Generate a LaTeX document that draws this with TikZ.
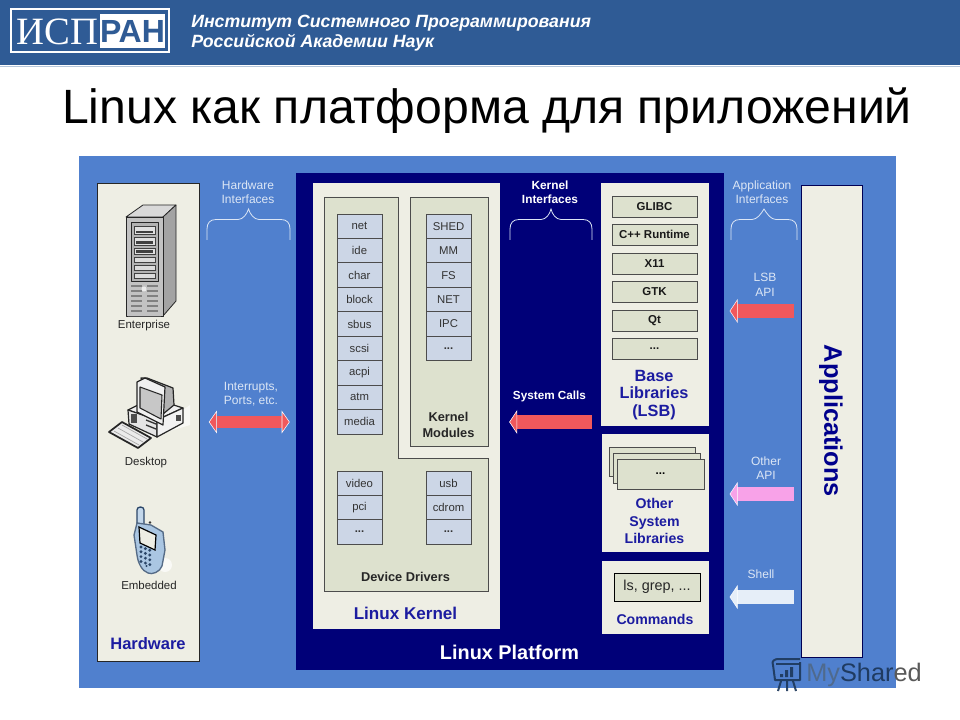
\documentclass[tikz,border=0pt]{standalone}
\usepackage{fontspec}
\setmainfont{Liberation Sans}
\newfontfamily\serifrm{Liberation Serif}
\usetikzlibrary{arrows.meta}
\definecolor{headblue}{HTML}{2F5B95}
\definecolor{bgblue}{HTML}{5080CE}
\definecolor{navy2}{HTML}{000078}
\definecolor{cream}{HTML}{EEEEE4}
\definecolor{sage}{HTML}{DDE1CE}
\definecolor{cellblue}{HTML}{CCD6E6}
\definecolor{titleblue}{HTML}{1C1CA0}
\definecolor{pale}{HTML}{DCE6F5}
\definecolor{redarr}{HTML}{F0585C}
\definecolor{pinkarr}{HTML}{F8A2E8}
\definecolor{palearr}{HTML}{E6EEF8}
\definecolor{phoneb}{HTML}{AAC6E2}
\definecolor{phoned}{HTML}{2B4668}
\newcommand{\celldots}{\bfseries ...}
\newcommand{\pbox}[7]{%
  \pgfmathsetmacro\pbW{(#5-#3)*0.75}%
  \pgfmathsetmacro\pbH{(#6-#4)*0.75}%
  \node[#1,minimum width=\pbW pt,minimum height=\pbH pt,inner sep=0pt] (#2) at ({(#3+#5)/2},{(#4+#6)/2}) {#7};}
\tikzset{
  headband/.style={fill=headblue},
  mainbg/.style={fill=bgblue},
  platbg/.style={fill=navy2},
  panel/.style={fill=cream},
  hwpanel/.style={fill=cream,draw=black!85,line width=.7pt},
  apppanel/.style={fill=cream,draw=navy2!70!black,line width=.7pt},
  subpanel/.style={fill=sage,draw=black!70,line width=.7pt},
  cellbox/.style={fill=cellblue,draw=black!70,line width=.7pt,text=black!80,font=\fontsize{8.5}{10}\selectfont},
  libbox/.style={fill=sage,draw=black!70,line width=.7pt,text=black!90,font=\bfseries\fontsize{8.6}{10}\selectfont},
  stackbox/.style={fill=sage,draw=black!70,line width=.7pt,font=\bfseries\fontsize{8.6}{10}\selectfont},
  cmdbox/.style={fill=sage,draw=black,line width=.7pt,text=black!85,font=\fontsize{10.8}{12}\selectfont},
  paneltitle/.style={text=titleblue,align=center,font=\bfseries\fontsize{12.2}{13}\selectfont},
  smalltitle/.style={text=titleblue,align=center,font=\bfseries\fontsize{10.6}{13}\selectfont},
  blacktitle/.style={text=black!85,align=center,font=\bfseries\fontsize{9.6}{12}\selectfont},
  arrlabel/.style={text=pale,align=center,font=\fontsize{9}{10.8}\selectfont},
  whitelabel/.style={text=white,align=center,font=\bfseries\fontsize{8.8}{10.8}\selectfont},
  bracket/.style={draw=pale,line width=.6pt},
  blockarr/.style={draw=#1,line width=9.8pt,-{Triangle[length=6pt,width=18pt,color=white,fill=#1,line width=.4pt]}},
  blockdbl/.style={draw=#1,line width=9pt,{Triangle[length=6pt,width=17pt,color=white,fill=#1,line width=.4pt]}-{Triangle[length=6pt,width=17pt,color=white,fill=#1,line width=.4pt]}},
  icon/.style={draw=black!85,line width=.6pt,line join=round}
}
\begin{document}
\begin{tikzpicture}[x=0.75pt,y=-0.75pt]
\useasboundingbox (0,0) rectangle (960,720);
\fill[white] (0,0) rectangle (960,720);
% header
\pbox{headband}{header}{0}{0}{960}{65}{}
\draw[draw=headblue!35,line width=.6pt] (0,66) -- (960,66);
\pbox{draw=white,line width=1.8pt,fill=headblue}{logo}{11}{9}{169}{52}{}
\pbox{fill=white}{logoran}{100}{14}{165}{48}{\bfseries\fontsize{24}{26}\selectfont\textcolor{headblue}{РАН}}
\node[anchor=east,inner sep=0pt,text=white,font=\serifrm\fontsize{29}{31}\selectfont] (logoisp) at (98.5,31.5) {ИСП};
\node[anchor=west,inner sep=0pt,text=white,font=\bfseries\itshape\fontsize{13.3}{15}\selectfont] (inst1) at (191,23) {Институт Системного Программирования};
\node[anchor=west,inner sep=0pt,text=white,font=\bfseries\itshape\fontsize{13.3}{15}\selectfont] (inst2) at (191,43) {Российской Академии Наук};
\node[inner sep=0pt,text=black,font=\fontsize{36.1}{40}\selectfont] (title) at (487,111) {Linux как платформа для приложений};
% panels
\pbox{mainbg}{main}{79}{156}{896}{688}{}
\pbox{hwpanel}{hardware}{97}{183}{199}{661}{}
\pbox{platbg}{platform}{296}{173}{724}{670}{}
\pbox{panel}{kernel}{313}{183}{500}{629}{}
\pbox{apppanel}{apps}{801}{185}{862}{657}{}
\node[rotate=-90,inner sep=0pt,text=navy2!85!blue,font=\bfseries\fontsize{19}{21}\selectfont] (appstext) at (831,421) {Applications};
% hardware text
\node[inner sep=0pt,text=black!85,font=\fontsize{8.6}{10}\selectfont] (enterprise) at (144,326) {Enterprise};
\node[inner sep=0pt,text=black!85,font=\fontsize{8.6}{10}\selectfont] (desktop) at (146,463) {Desktop};
\node[inner sep=0pt,text=black!85,font=\fontsize{8.6}{10}\selectfont] (embedded) at (149,585) {Embedded};
\node[paneltitle,inner sep=0pt,font=\bfseries\fontsize{12.4}{14}\selectfont] (hwtitle) at (148,644) {Hardware};
% server icon
\draw[icon,fill=black!15] (126,217) -- (143,205) -- (176,205) -- (163,217) -- cycle;
\draw[icon,fill=black!36] (163,217) -- (176,205) -- (176,301) -- (163,316) -- cycle;
\draw[icon,fill=black!24] (126,217) rectangle (163,316);
\draw[icon,fill=black!30] (131,222) rectangle (158,281);
\foreach \ya/\yb/\fc in {226/234/black!12, 237/245/black!12, 248/254/black!12, 257/262/black!14, 265/270/black!14, 273/278/black!14}
  \draw[draw=black!75,line width=.5pt,fill=\fc] (134,\ya) rectangle (155,\yb);
\fill[black!75] (136,231) rectangle (153,233);
\fill[black!75] (136,241) rectangle (153,244);
\fill[black!75] (136,250) rectangle (153,253);
\foreach \yy in {286,291,296,301,306,311} {
  \draw[black!50,line width=.9pt] (131,\yy) -- (142,\yy);
  \draw[black!50,line width=.9pt] (147,\yy) -- (158,\yy);
}
\fill[black!8] (144,289) circle (2.5);
\draw[black!70,line width=.9pt] (128,316.5) -- (161,316.5);
% desktop icon
\fill[white,opacity=.6] (140,440) -- (190,425) -- (190,405) -- cycle;
\draw[icon,line width=.9pt,fill=black!6] (128,410) -- (152,398) -- (183,408) -- (157,420) -- cycle;
\draw[icon,line width=.9pt,fill=black!10] (128,410) -- (157,420) -- (157,437) -- (129,424) -- cycle;
\draw[icon,line width=.9pt,fill=black!5] (157,420) -- (183,408) -- (183,423) -- (157,437) -- cycle;
\fill[black!70] (131,414) rectangle (137,423);
\fill[black!70] (176,415) rectangle (181,421);
\draw[black!80,line width=1pt] (146,420) -- (156,424) (146,425) -- (156,429);
\draw[icon,line width=.9pt,fill=black!30] (141,378) -- (147,378) -- (173,388) -- (174,405) -- (163,414) -- (150,405) -- cycle;
\draw[icon,line width=.9pt,fill=black!6] (137,382) -- (145,378) -- (165,387) -- (163,425) -- (137,412) -- cycle;
\draw[icon,line width=.8pt,fill=black!22] (140,387) -- (162,395) -- (161,419) -- (140,408) -- cycle;
% keyboard
\draw[icon,line width=1.3pt,fill=black!8] (109,432) -- (122,422) -- (151,438) -- (138,448) -- cycle;
\draw[black!35,line width=.5pt] (114,431) -- (139,445) (118,428) -- (143,442) (122,425) -- (147,439);
% phone icon
\fill[white,opacity=.7] (165,565) circle (7);
\draw[draw=phoned,line width=1pt,fill=phoneb!70] (137,523) -- (137,510) .. controls (137,506) and (144,506) .. (144,510) -- (144,526) -- cycle;
\draw[draw=phoned!80,line width=1pt,fill=phoneb] (137,523) -- (151,525) -- (163,532) -- (165,550) -- (162,566) .. controls (160,572) and (152,575) .. (148,573) .. controls (142,571) and (138,563) .. (137,555) -- (134,535) -- cycle;
\draw[draw=black,line width=.9pt,fill=cream] (139,527) -- (156,535) -- (155,550) -- (140,543) -- cycle;
\fill[black!80] (150,522.5) circle (1.3);
\foreach \r in {0,1,2,3} \foreach \c in {0,1,2}
  \fill[phoned] ({141+\c*4.4},{547+\r*4.8+\c*1.6}) circle (1.6);
\fill[phoned] (146.5,566) circle (1.2);
% brackets
\draw[bracket] (207,240) -- (207,229) .. controls (207,223) and (210,219.5) .. (216,219.5) -- (238,219.5) .. controls (243,219.5) and (247,214) .. (248.5,209) .. controls (250,214) and (254,219.5) .. (259,219.5) -- (281,219.5) .. controls (287,219.5) and (290,223) .. (290,229) -- (290,240);
\draw[bracket] (510,240) -- (510,229) .. controls (510,223) and (513,219.5) .. (519,219.5) -- (541,219.5) .. controls (546,219.5) and (550,214) .. (551,209) .. controls (552,214) and (556,219.5) .. (561,219.5) -- (583,219.5) .. controls (589,219.5) and (592,223) .. (592,229) -- (592,240);
\draw[bracket] (731,240) -- (731,229) .. controls (731,223) and (734,219.5) .. (740,219.5) -- (752,219.5) .. controls (757,219.5) and (761,214) .. (764,209) .. controls (767,214) and (771,219.5) .. (776,219.5) -- (788,219.5) .. controls (794,219.5) and (797,223) .. (797,229) -- (797,240);
\node[arrlabel,inner sep=0pt] (hwif) at (248,192.5) {Hardware\\Interfaces};
\node[whitelabel,inner sep=0pt,font=\bfseries\fontsize{8.9}{10.8}\selectfont] (kif) at (550,192) {Kernel\\Interfaces};
\node[arrlabel,inner sep=0pt] (appif) at (762,192) {Application\\Interfaces};
\node[arrlabel,inner sep=0pt] (irq) at (251,394) {Interrupts,\\Ports, etc.};
\node[arrlabel,inner sep=0pt] (lsbapi) at (765,285) {LSB\\API};
\node[arrlabel,inner sep=0pt] (othapi) at (766,468) {Other\\API};
\node[arrlabel,inner sep=0pt] (shell) at (761,574) {Shell};
\node[whitelabel,inner sep=0pt] (syscalls) at (549.5,396) {System Calls};
% kernel subpanels
\fill[sage] (324,197) -- (398,197) -- (398,458) -- (488,458) -- (488,591) -- (324,591) -- cycle;
\draw[draw=black!70,line width=.7pt] (324,197) -- (398,197) -- (398,458) -- (488,458) -- (488,591) -- (324,591) -- cycle;
\pbox{subpanel}{modules}{410}{197}{488}{446}{}
\foreach \nm [count=\i from 0] in {net,ide,char,block,sbus,scsi,acpi,atm,media} {
  \pgfmathsetmacro\ya{214+\i*24.45}\pgfmathsetmacro\yb{\ya+24.45}
  \pbox{cellbox}{drv\i}{337}{\ya}{382}{\yb}{\nm}
}
\foreach \nm [count=\i from 0] in {SHED,MM,FS,NET,IPC,\celldots} {
  \pgfmathsetmacro\ya{214+\i*24.45}\pgfmathsetmacro\yb{\ya+24.45}
  \pbox{cellbox}{mod\i}{426}{\ya}{471}{\yb}{\nm}
}
\foreach \nm [count=\i from 0] in {video,pci,\celldots} {
  \pgfmathsetmacro\ya{471+\i*24.4}\pgfmathsetmacro\yb{\ya+24.4}
  \pbox{cellbox}{vid\i}{337}{\ya}{382}{\yb}{\nm}
}
\foreach \nm [count=\i from 0] in {usb,cdrom,\celldots} {
  \pgfmathsetmacro\ya{471+\i*24.4}\pgfmathsetmacro\yb{\ya+24.4}
  \pbox{cellbox}{usb\i}{426}{\ya}{471}{\yb}{\nm}
}
\node[blacktitle,inner sep=0pt] (modtext) at (448.5,424.5) {Kernel\\Modules};
\node[blacktitle,inner sep=0pt] (devtext) at (405.5,576.5) {Device Drivers};
\node[paneltitle,inner sep=0pt,font=\bfseries\fontsize{12.8}{14}\selectfont] (kerneltext) at (405.5,613) {Linux Kernel};
\node[inner sep=0pt,text=white,font=\bfseries\fontsize{14.9}{16}\selectfont] (plattext) at (509.5,652) {Linux Platform};
% libraries
\pbox{panel}{base}{601}{183}{709}{426}{}
\pbox{libbox}{glibc}{612}{196}{697}{217}{GLIBC}
\pbox{libbox}{cpp}{612}{224}{697}{245}{C++ Runtime}
\pbox{libbox}{xeleven}{612}{253}{697}{274}{X11}
\pbox{libbox}{gtk}{612}{281}{697}{302}{GTK}
\pbox{libbox}{qt}{612}{310}{697}{331}{Qt}
\pbox{libbox}{libdots}{612}{338}{697}{359}{...}
\node[paneltitle,inner sep=0pt] (basetext) at (654,395) {Base\\Libraries\\(LSB)};
\pbox{panel}{other}{602}{434}{709}{552}{}
\pbox{stackbox}{st1}{609}{447}{695}{476}{}
\pbox{stackbox}{st2}{613}{453}{700}{483}{}
\pbox{stackbox}{st3}{617}{459}{704}{489}{...}
\node[smalltitle,inner sep=0pt] (othertext) at (654.5,521) {Other\\System\\Libraries};
\pbox{panel}{commands}{602}{561}{709}{634}{}
\pbox{cmdbox}{lsbox}{614}{573}{700}{601}{ls, grep, ...}
\node[smalltitle,inner sep=0pt] (cmdtext) at (655,619) {Commands};
% arrows
\draw[blockdbl=redarr,shorten <=7pt,shorten >=4.5pt] (hardware.east |- 0,422) -- (platform.west |- 0,422);
\draw[blockarr=redarr,shorten <=6.7pt,shorten >=6.7pt] (base.west |- 0,422) -- (kernel.east |- 0,422);
\draw[blockarr=redarr,shorten <=5.2pt,shorten >=4pt] (apps.west |- 0,311) -- (platform.east |- 0,311);
\draw[blockarr=pinkarr,shorten <=5.2pt,shorten >=4pt] (apps.west |- 0,494) -- (platform.east |- 0,494);
\draw[blockarr=palearr,shorten <=5.2pt,shorten >=4pt] (apps.west |- 0,597) -- (platform.east |- 0,597);
% watermark
\begin{scope}[draw=headblue!60!black,line width=1.5pt,line join=round,opacity=.9]
  \draw (773,665) .. controls (771,661) and (775,659) .. (778,659) -- (800,659);
  \draw (773,665) -- (775,680) -- (800,680) -- (800,662);
  \draw (776,664) -- (800,664);
  \fill[headblue!60!black] (780,674) rectangle (783,677) (785,670) rectangle (788,677) (790,667) rectangle (793,677);
  \draw (781,681) -- (778,691) (787,681) -- (787,691) (793,681) -- (796,691);
\end{scope}
\node[anchor=west,inner sep=0pt,font=\fontsize{19}{22}\selectfont] (mark) at (806,675) {\textcolor{headblue!75!black!80}{My}\textcolor{headblue!65!black}{Shar}\textcolor{black!65}{ed}};
\end{tikzpicture}
\end{document}
